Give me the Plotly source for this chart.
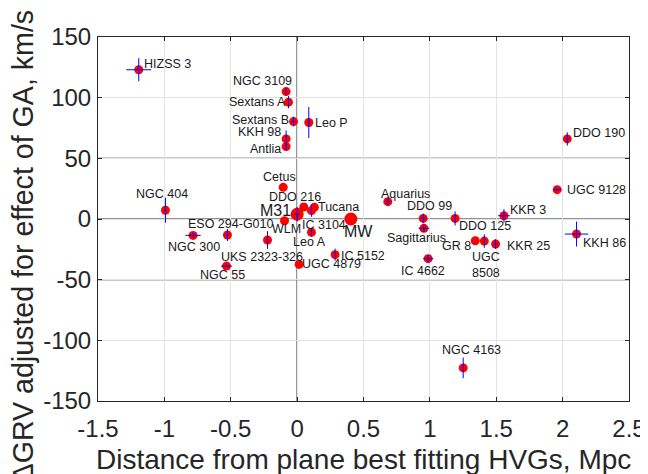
import plotly.graph_objects as go

# ---- data ----
names = ["HIZSS 3", "NGC 3109", "Sextans A", "Sextans B", "Leo P", "KKH 98", "Antlia",
         "Cetus", "NGC 404", "DDO 216", "Tucana", "IC 3104", "M31", "WLM", "Leo A",
         "IC 5152", "UGC 4879", "UKS 2323-326", "ESO 294-G010", "NGC 300", "NGC 55",
         "MW", "DDO 190", "UGC 9128", "Aquarius", "DDO 99", "Sagittarius", "DDO 125",
         "GR 8", "UGC 8508", "KKR 25", "KKR 3", "KKH 86", "IC 4662", "NGC 4163"]
dist = [-1.193, -0.083, -0.065, -0.027, 0.088, -0.083, -0.083,
        -0.105, -0.992, 0.05, 0.13, 0.108, 0.0, -0.095, 0.108,
        0.286, 0.015, -0.223, -0.525, -0.784, -0.532,
        0.405, 2.035, 1.959, 0.683, 0.95, 0.955, 1.19,
        1.342, 1.41, 1.495, 1.558, 2.105, 0.987, 1.251]
dgrv = [123.0, 105.0, 96.3, 80.3, 79.5, 66.0, 59.7,
        26.1, 7.2, 9.9, 9.6, 6.9, 3.9, -1.4, -11.0,
        -29.4, -37.4, -17.3, -13.2, -13.5, -38.8,
        0.0, 66.0, 24.2, 14.3, 0.5, -7.7, 0.5,
        -17.9, -18.2, -20.6, 2.7, -12.4, -32.7, -122.7]
dist_err = [0.094, 0.0, 0.0, 0.015, 0.01, 0.0, 0.0,
            0.0, 0.01, 0.0, 0.0, 0.0, 0.02, 0.0, 0.0,
            0.0, 0.0, 0.0, 0.015, 0.057, 0.041,
            0.0, 0.015, 0.03, 0.02, 0.02, 0.04, 0.0,
            0.0, 0.0, 0.015, 0.044, 0.088, 0.038, 0.0]
dgrv_err = [9.5, 3.0, 5.0, 4.0, 12.8, 7.0, 3.0,
            0.0, 10.3, 0.0, 0.0, 5.0, 6.0, 0.0, 3.5,
            5.0, 0.0, 7.3, 5.0, 2.0, 1.0,
            0.0, 5.5, 1.0, 3.0, 4.0, 3.0, 5.8,
            0.0, 5.5, 4.0, 5.5, 10.3, 3.0, 8.5]
big_names = ["M31", "MW"]

x_ticks = [-1.5, -1, -0.5, 0, 0.5, 1, 1.5, 2, 2.5]
x_tick_text = ["-1.5", "-1", "-0.5", "0", "0.5", "1", "1.5", "2", "2.5"]
y_ticks = [-150, -100, -50, 0, 50, 100, 150]
y_tick_text = ["-150", "-100", "-50", "0", "50", "100", "150"]
ref_lines_y = [-50, 0, 50]
ref_lines_x = [0]

x_title = "Distance from plane best fitting HVGs, Mpc"
y_title = "ΔGRV adjusted for effect of GA, km/s"

# ---- label placement (style: anchor, x-offset px, y-offset px screen-down) ----
label_style = {
    "HIZSS 3": ("left", 4, -6), "NGC 3109": ("right", 7, -11), "Sextans A": ("right", -2, 0),
    "Sextans B": ("right", -4, -2), "Leo P": ("left", 5, 0), "KKH 98": ("right", -4, -7),
    "Antlia": ("right", -4, 2), "Cetus": ("center", -4, -10), "NGC 404": ("center", -3, -16),
    "DDO 216": ("center", -9, -10), "Tucana": ("left", 3, 0), "IC 3104": ("left", -10, 14),
    "M31": ("right", -5, -4), "WLM": ("center", 2, 8), "Leo A": ("center", -2, 10),
    "IC 5152": ("left", 5, 1), "UGC 4879": ("left", 2, 0), "UKS 2323-326": ("center", -6, 17),
    "ESO 294-G010": ("center", 4, -11), "NGC 300": ("center", 1, 12), "NGC 55": ("center", -4, 9),
    "MW": ("center", 8, 12), "DDO 190": ("left", 5, -6), "UGC 9128": ("left", 9, 0),
    "Aquarius": ("center", 18, -8), "DDO 99": ("center", 6, -12), "Sagittarius": ("center", -7, 10),
    "DDO 125": ("left", 3, 8), "GR 8": ("right", -3, 5), "UGC 8508": ("center", 2, 24),
    "KKR 25": ("left", 10, 2), "KKR 3": ("left", 5, -6), "KKH 86": ("left", 5, 9),
    "IC 4662": ("center", -5, 12), "NGC 4163": ("center", 8, -18),
}

FONT = "Liberation Sans, Arial, Helvetica, sans-serif"
AX = "#262626"

marker_sizes = [13 if n in big_names else 9 for n in names]

fig = go.Figure()
fig.add_trace(go.Scatter(
    x=dist, y=dgrv, mode="markers",
    marker=dict(color="#ff0000", size=marker_sizes, opacity=1, line=dict(width=0)),
    hovertext=names, showlegend=False,
))
fig.add_trace(go.Scatter(
    x=dist, y=dgrv, mode="markers",
    marker=dict(color="rgba(0,0,0,0)", size=1),
    error_x=dict(type="data", array=dist_err, color="#0000ff", thickness=1, width=0),
    error_y=dict(type="data", array=dgrv_err, color="#0000ff", thickness=1, width=0),
    showlegend=False, hoverinfo="skip",
))

shapes = []
for yv in ref_lines_y:
    shapes.append(dict(type="line", xref="paper", x0=0, x1=1, yref="y", y0=yv, y1=yv,
                       line=dict(color=AX, width=1.2), layer="below"))
for xv in ref_lines_x:
    shapes.append(dict(type="line", yref="paper", y0=0, y1=1, xref="x", x0=xv, x1=xv,
                       line=dict(color=AX, width=1.2), layer="below"))

annotations = []
for n, xv, yv in zip(names, dist, dgrv):
    anc, dx, dy = label_style[n]
    txt = "UGC<br>8508" if n == "UGC 8508" else n
    size = 16 if n in big_names else 12.5
    annotations.append(dict(x=xv, y=yv, xref="x", yref="y", text=txt, showarrow=False,
                            xanchor=anc, yanchor="middle", xshift=dx, yshift=-dy,
                            font=dict(family=FONT, size=size, color="#1a1a1a"),
                            borderpad=0))
annotations.append(dict(x=0.5, y=-0.162, xref="paper", yref="paper", text=x_title,
                        showarrow=False, xanchor="center", yanchor="middle",
                        font=dict(family=FONT, size=28, color=AX)))
annotations.append(dict(x=-0.141, y=0.425, xref="paper", yref="paper", text=y_title,
                        showarrow=False, xanchor="center", yanchor="middle", textangle=-90,
                        font=dict(family=FONT, size=28.6, color=AX)))

axis_common = dict(showline=True, linecolor=AX, linewidth=1, mirror="ticks",
                   ticks="inside", ticklen=4, tickcolor=AX, tickwidth=1,
                   showgrid=True, gridcolor="#e3e3e3", gridwidth=1, zeroline=False,
                   automargin=False,
                   tickfont=dict(family=FONT, size=24, color=AX))

# page body has an 8px default margin; figure is sized/offset to compensate
fig.update_layout(
    width=640, height=466,
    margin=dict(l=90, r=19, t=29, b=73, autoexpand=False),
    paper_bgcolor="white", plot_bgcolor="white",
    xaxis=dict(range=[-1.5, 2.5], tickvals=x_ticks, ticktext=x_tick_text,
               ticklabelstandoff=6, **axis_common),
    yaxis=dict(range=[-150, 150], tickvals=y_ticks, ticktext=y_tick_text,
               ticklabelstandoff=1, **axis_common),
    shapes=shapes, annotations=annotations,
)

fig.write_html("out.html")
